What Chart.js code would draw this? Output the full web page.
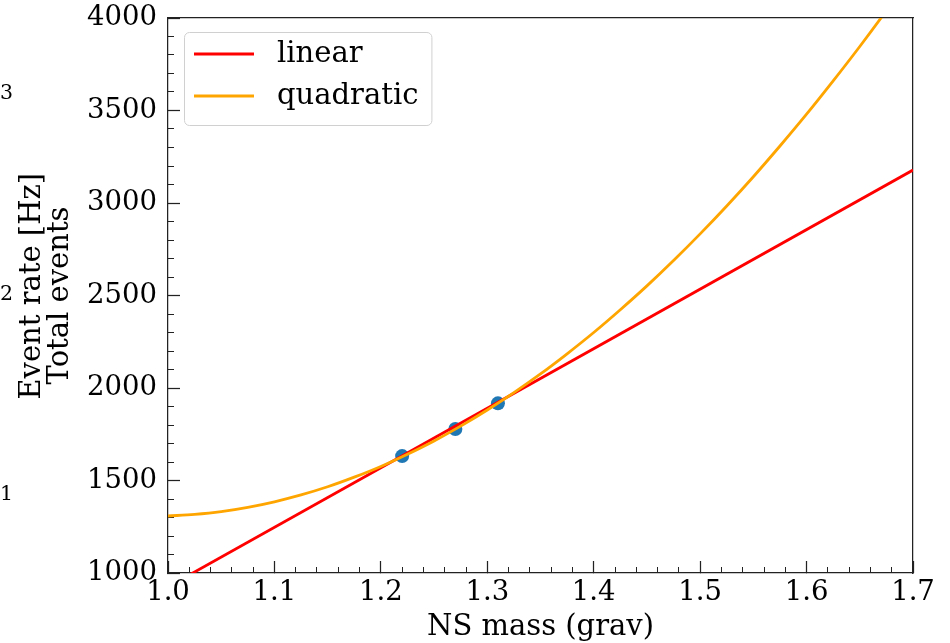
<!DOCTYPE html>
<html>
<head>
<meta charset="utf-8">
<script src="https://cdn.jsdelivr.net/npm/chart.js@4.4.1/dist/chart.umd.min.js"></script>
<style>
  body { margin: 0; background: #fff; }
  #wrap { width: 950px; height: 643px; }
</style>
</head>
<body>
<div id="wrap"><canvas id="rateChart"></canvas></div>
<script>
// measured rates
const measMass = [1.22, 1.27, 1.31];
const measRate = [1632, 1778, 1917];

// linear fit
const linMass = [1.0, 1.7];
const linRate = [925, 3178];

// quadratic fit
const quadMass = [1.0, 1.025, 1.05, 1.075, 1.1, 1.125, 1.15, 1.175, 1.2, 1.225,
                  1.25, 1.275, 1.3, 1.325, 1.35, 1.375, 1.4, 1.425, 1.45, 1.475,
                  1.5, 1.525, 1.55, 1.575, 1.6, 1.625, 1.65, 1.675, 1.7];
const quadRate = [1308, 1317, 1332, 1355, 1385, 1422, 1466, 1518, 1576, 1642,
                  1714, 1794, 1881, 1975, 2076, 2185, 2300, 2423, 2552, 2689,
                  2833, 2984, 3142, 3308, 3480, 3660, 3846, 4040, 4241];

const massTicks = [1.0, 1.1, 1.2, 1.3, 1.4, 1.5, 1.6, 1.7];
const rateTicks = [1000, 1500, 2000, 2500, 3000, 3500, 4000];
const eventTicks = [1, 2, 3];

const serif = 'DejaVu Serif';
const axisColor = '#222';
Chart.defaults.font.family = serif;
Chart.defaults.color = '#000';

const toPts = (xs, ys) => xs.map((x, i) => ({x: x, y: ys[i]}));

// framed legend in the upper left corner of the plot
const fitLegend = {
    id: 'fitLegend',
    afterDatasetsDraw(chart) {
        const {ctx, chartArea} = chart;
        const items = chart.data.datasets.filter(d => d.showLine);
        items.sort((a, b) => b.order - a.order);
        ctx.save();
        ctx.font = '29px "' + serif + '"';
        const textX = chartArea.left + 109;
        let maxW = 0;
        items.forEach(d => { maxW = Math.max(maxW, ctx.measureText(d.label).width); });
        const bx = chartArea.left + 16, by = chartArea.top + 14;
        const bw = textX + maxW + 13 - bx, bh = 93;
        ctx.beginPath();
        ctx.roundRect(bx + 0.5, by + 0.5, bw, bh, 5);
        ctx.fillStyle = 'rgba(255,255,255,0.8)';
        ctx.fill();
        ctx.strokeStyle = '#d0d0d0';
        ctx.lineWidth = 1;
        ctx.stroke();
        items.forEach((d, i) => {
            const y = chartArea.top + 36 + i * 42;
            ctx.beginPath();
            ctx.moveTo(chartArea.left + 26, y);
            ctx.lineTo(chartArea.left + 86, y);
            ctx.strokeStyle = d.borderColor;
            ctx.lineWidth = d.borderWidth;
            ctx.stroke();
            ctx.fillStyle = '#000';
            ctx.textBaseline = 'middle';
            ctx.textAlign = 'left';
            ctx.fillText(d.label, textX, y);
        });
        ctx.restore();
    }
};

const tickFont = {family: serif, size: 27.5};
const titleFont = {family: serif, size: 29, lineHeight: 28 / 29};

// labels hang outside the frame; keep them from pushing the plot inwards
const noLabelPadding = s => {
    s.paddingTop = 0;
    s.paddingBottom = 0;
    s.paddingLeft = 0;
    s.paddingRight = 0;
};

new Chart(document.getElementById('rateChart'), {
    type: 'scatter',
    data: {
        datasets: [
            {
                label: 'quadratic',
                data: toPts(quadMass, quadRate),
                showLine: true,
                borderColor: '#ffa500',
                borderWidth: 2.8,
                pointRadius: 0,
                cubicInterpolationMode: 'monotone',
                clip: 0,
                order: 0
            },
            {
                label: 'linear',
                data: toPts(linMass, linRate),
                showLine: true,
                borderColor: '#ff0000',
                borderWidth: 2.8,
                pointRadius: 0,
                clip: 0,
                order: 1
            },
            {
                label: 'data',
                data: toPts(measMass, measRate),
                backgroundColor: '#1f77b4',
                borderWidth: 0,
                pointRadius: 7,
                order: 2
            }
        ]
    },
    options: {
        responsive: true,
        maintainAspectRatio: false,
        animation: false,
        events: [],
        layout: {
            padding: {top: 18, right: 37, bottom: 0, left: 0}
        },
        plugins: {
            legend: {display: false},
            tooltip: {enabled: false}
        },
        scales: {
            x: {
                type: 'linear',
                position: 'bottom',
                min: 1.0,
                max: 1.7,
                afterBuildTicks: s => { s.ticks = massTicks.map(v => ({value: v})); },
                afterFit: s => { s.height = 70; noLabelPadding(s); },
                ticks: {
                    font: tickFont,
                    padding: 15,
                    maxRotation: 0,
                    autoSkip: false,
                    callback: v => v.toFixed(1)
                },
                grid: {drawOnChartArea: false, tickLength: -12, tickColor: axisColor, tickWidth: 1.25},
                border: {color: axisColor, width: 1.25},
                title: {
                    display: true,
                    text: 'NS mass (grav)',
                    font: titleFont,
                    padding: {top: 0, bottom: 2}
                }
            },
            y: {
                type: 'linear',
                position: 'left',
                min: 1000,
                max: 4000,
                afterBuildTicks: s => { s.ticks = rateTicks.map(v => ({value: v})); },
                afterFit: s => { s.width = 122; noLabelPadding(s); },
                ticks: {font: tickFont, padding: 23, callback: v => String(v)},
                grid: {drawOnChartArea: false, tickLength: -12, tickColor: axisColor, tickWidth: 1.25},
                border: {color: axisColor, width: 1.25},
                title: {
                    display: true,
                    text: 'Total events',
                    font: titleFont,
                    padding: {top: 0, bottom: 0}
                }
            },
            // twin axis on the far left: its tick labels and its own title
            yEvents: {
                axis: 'y',
                type: 'linear',
                position: 'left',
                weight: 1,
                min: 0.611,
                max: 3.38,
                afterBuildTicks: s => { s.ticks = eventTicks.map(v => ({value: v})); },
                afterFit: s => { s.width = 46; noLabelPadding(s); },
                ticks: {font: {family: serif, size: 20.5}, crossAlign: 'far', padding: 0},
                grid: {display: false},
                border: {display: false},
                title: {
                    display: true,
                    text: '  Event rate [Hz]',
                    font: titleFont,
                    padding: {top: 18, bottom: 0}
                }
            },
            // minor ticks
            xMinor: {
                axis: 'x',
                type: 'linear',
                position: {y: 1000},
                min: 1.0,
                max: 1.7,
                ticks: {display: false, stepSize: 0.02},
                grid: {drawOnChartArea: false, tickLength: -6, tickColor: axisColor, tickWidth: 1},
                border: {display: false}
            },
            yMinor: {
                axis: 'y',
                type: 'linear',
                position: {x: 1.0},
                min: 1000,
                max: 4000,
                ticks: {display: false, stepSize: 100},
                grid: {drawOnChartArea: false, tickLength: -6, tickColor: axisColor, tickWidth: 1},
                border: {display: false}
            },
            // top and right frame
            xTop: {
                axis: 'x',
                type: 'linear',
                position: {y: 4000},
                min: 1.0,
                max: 1.7,
                ticks: {display: false},
                grid: {drawOnChartArea: false, drawTicks: false},
                border: {color: axisColor, width: 1.25}
            },
            yRight: {
                axis: 'y',
                type: 'linear',
                position: {x: 1.7},
                min: 1000,
                max: 4000,
                ticks: {display: false},
                grid: {drawOnChartArea: false, drawTicks: false},
                border: {color: axisColor, width: 1.25}
            }
        }
    },
    plugins: [fitLegend]
});
</script>
</body>
</html>
